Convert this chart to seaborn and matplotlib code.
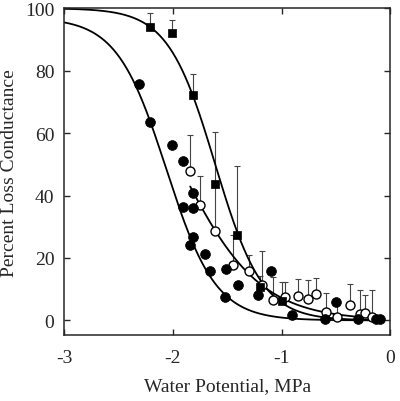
import numpy as np
import matplotlib
matplotlib.use('Agg')
import matplotlib.pyplot as plt
import seaborn as sns

# squares (with upper error bars)
sq_x = [-2.21, -2.01, -1.81, -1.61, -1.41, -1.20, -1.00]
sq_y = [93.9, 92.0, 72.1, 43.7, 27.2, 10.7, 6.1]
sq_err = [4.5, 4.3, 6.9, 16.6, 22.4, 3.5, 6.2]

# open circles (with upper error bars)
open_x = [-1.84, -1.75, -1.61, -1.45, -1.30, -1.18, -1.08, -0.97, -0.85,
          -0.76, -0.68, -0.59, -0.49, -0.37, -0.28, -0.23, -0.17]
open_y = [47.8, 37.1, 28.8, 17.6, 15.7, 11.5, 6.4, 7.5, 7.8,
          6.7, 8.3, 2.7, 1.1, 4.8, 2.1, 2.5, 1.1]
open_err = [11.7, 9.0, 14.5, 9.6, 5.3, 10.6, 7.5, 4.8, 5.5,
            6.4, 5.3, 6.2, 4.8, 6.9, 7.5, 5.7, 8.5]

# filled circles
fill_x = [-2.31, -2.21, -2.01, -1.91, -1.81, -1.91, -1.81, -1.81, -1.84, -1.70, -1.66,
          -1.51, -1.52, -1.40, -1.22, -1.10, -0.90, -0.60, -0.50, -0.30, -0.13, -0.10]
fill_y = [75.7, 63.5, 56.3, 51.2, 40.9, 36.3, 36.0, 26.7, 24.0, 21.3, 15.7,
          16.5, 7.5, 11.5, 8.0, 15.7, 1.6, 0.6, 5.9, 0.5, 0.5, 0.5]

# fitted sigmoid curves: (max, slope, midpoint, start, end)
fit_filled = (97, 4.4, -2.06, -3.0, -0.1)
fit_open = (100, 2.7, -1.946, -1.84, -0.1)
fit_square = (100, 4.6, -1.61, -3.0, -0.1)


def sigmoid(p):
    m, a, x0, x1, x2 = p
    xx = np.linspace(x1, x2, 300)
    return xx, m / (1 + np.exp(a * (xx - x0)))


sns.set_style('ticks')
plt.rcParams['font.family'] = ['Liberation Serif', 'DejaVu Serif']
plt.rcParams['font.size'] = 14

fig = plt.figure(figsize=(4, 4.02), dpi=100)
ax = fig.add_axes([0.16, 0.164, 0.816, 0.813])

for p in [fit_filled, fit_open, fit_square]:
    xx, yy = sigmoid(p)
    sns.lineplot(x=xx, y=yy, color='black', linewidth=1.3, ax=ax, zorder=2)

ax.errorbar(sq_x, sq_y, yerr=[np.zeros(len(sq_y)), sq_err], fmt='none',
            ecolor='#444444', elinewidth=0.8, capsize=2.5, capthick=0.8, zorder=1)
ax.errorbar(open_x, open_y, yerr=[np.zeros(len(open_y)), open_err], fmt='none',
            ecolor='#444444', elinewidth=0.8, capsize=2.5, capthick=0.8, zorder=1)

sns.scatterplot(x=open_x, y=open_y, marker='o', s=42, color='white',
                edgecolor='black', linewidth=1.0, ax=ax, zorder=3)
sns.scatterplot(x=fill_x, y=fill_y, marker='o', s=50, color='black',
                edgecolor='black', linewidth=0.5, ax=ax, zorder=4)
sns.scatterplot(x=sq_x, y=sq_y, marker='s', s=38, color='black',
                edgecolor='black', linewidth=0.5, ax=ax, zorder=4)

ax.set_xlim(-3, 0)
ax.set_ylim(-4.7, 100)
ax.set_xticks([-3, -2, -1, 0])
ax.set_xticklabels(['-3', '-2', '-1', '0'])
ax.set_yticks([0, 20, 40, 60, 80, 100])
ax.tick_params(direction='in', top=True, right=True, length=4, width=1,
               labelsize=14)
ax.tick_params(axis='x', pad=10)
ax.tick_params(axis='y', pad=7)
for s in ax.spines.values():
    s.set_linewidth(1.1)

ax.set_xlabel('Water Potential, MPa', fontsize=14, labelpad=8)
ax.set_ylabel('Percent Loss Conductance', fontsize=14, labelpad=5)

fig.savefig('out.png', dpi=100)
